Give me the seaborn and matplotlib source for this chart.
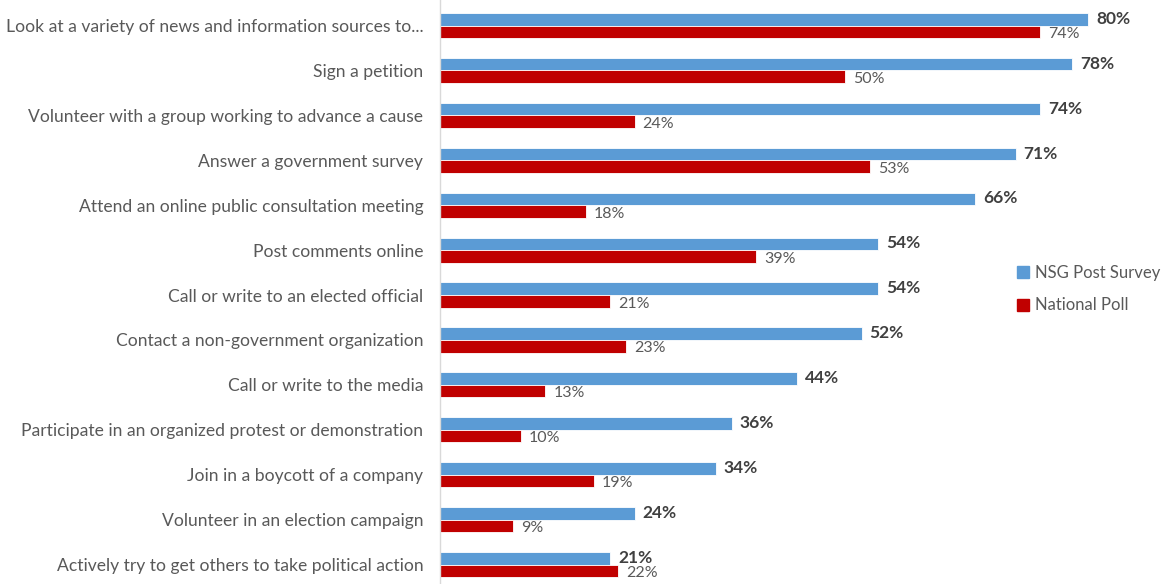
import matplotlib
matplotlib.use("Agg")
import matplotlib.pyplot as plt
import seaborn as sns
import pandas as pd
from matplotlib.lines import Line2D

categories = [
    "Look at a variety of news and information sources to...",
    "Sign a petition",
    "Volunteer with a group working to advance a cause",
    "Answer a government survey",
    "Attend an online public consultation meeting",
    "Post comments online",
    "Call or write to an elected official",
    "Contact a non-government organization",
    "Call or write to the media",
    "Participate in an organized protest or demonstration",
    "Join in a boycott of a company",
    "Volunteer in an election campaign",
    "Actively try to get others to take political action",
]
series_names = ["NSG Post Survey", "National Poll"]
nsg_values = [80, 78, 74, 71, 66, 54, 54, 52, 44, 36, 34, 24, 21]
national_values = [74, 50, 24, 53, 18, 39, 21, 23, 13, 10, 19, 9, 22]

colors = {"NSG Post Survey": "#5B9BD5", "National Poll": "#C00000"}

df = pd.DataFrame({
    "activity": categories * 2,
    "series": [series_names[0]] * len(categories) + [series_names[1]] * len(categories),
    "value": nsg_values + national_values,
})

sns.set_style("white")
plt.rcParams["font.family"] = ["Lato", "DejaVu Sans"]

fig = plt.figure(figsize=(11.67, 5.84), dpi=100)
ax = fig.add_axes([440 / 1167, 0.0, (1129 - 440) / 1167, 1.0])

sns.barplot(data=df, y="activity", x="value", hue="series", order=categories,
            hue_order=series_names, palette=colors, saturation=1, orient="h",
            width=0.56, edgecolor="white", linewidth=0.6, legend=False, ax=ax)

n = len(categories)
ax.set_xlim(0, 85)
ax.set_ylim(n - 1 + 0.434, -0.568)
ax.set_xlabel("")
ax.set_ylabel("")
ax.set_xticks([])
for s in ["top", "right", "bottom"]:
    ax.spines[s].set_visible(False)
ax.spines["left"].set_color("#D9D9D9")
ax.spines["left"].set_linewidth(1.0)
ax.tick_params(axis="y", length=0, pad=12, labelsize=12.6, labelcolor="#595959")

for i, (a, b) in enumerate(zip(nsg_values, national_values)):
    ax.text(a + 1.0, i - 0.15, f"{a}%", va="center", ha="left", fontsize=12.5,
            fontweight="bold", color="#404040")
    ax.text(b + 1.0, i + 0.19, f"{b}%", va="center", ha="left", fontsize=11.5,
            color="#595959")

handles = [Line2D([0], [0], marker="s", linestyle="", markersize=8,
                  markerfacecolor=colors[s], markeredgecolor=colors[s]) for s in series_names]
fig.legend(handles, series_names, loc="center left", bbox_to_anchor=(1000 / 1167, 1 - 289 / 584),
           frameon=False, fontsize=12, labelcolor="#595959", handletextpad=0.2,
           labelspacing=1.0, handlelength=1.0)

fig.savefig("out.png", dpi=100)
